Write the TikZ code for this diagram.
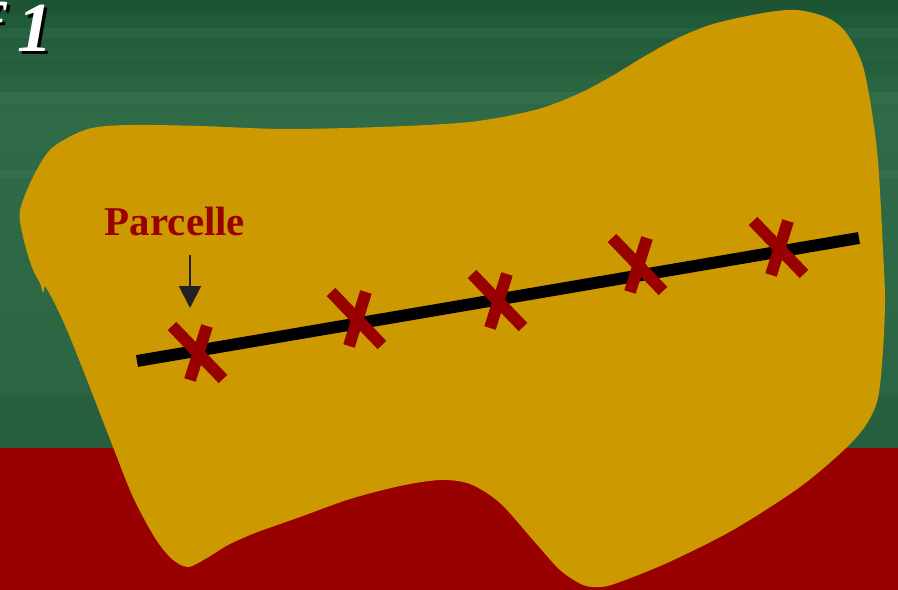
\documentclass[tikz,border=0pt]{standalone}
\usepackage{fontspec}
\setmainfont{Liberation Serif}
\usetikzlibrary{arrows.meta}
\definecolor{gdark}{HTML}{1D5836}
\definecolor{glight}{HTML}{306B47}
\definecolor{gmid}{HTML}{2A6442}
\definecolor{redband}{HTML}{990000}
\definecolor{blob}{HTML}{CC9900}
\definecolor{xred}{HTML}{990000}
\definecolor{arrgray}{HTML}{222222}
\tikzset{
  xbar/.style={draw=xred, line width=6.8pt, line cap=butt},
  axisline/.style={draw=black, line width=6.8pt, line cap=butt},
  labeltext/.style={text=xred, font=\fontsize{23.3}{26}\selectfont\bfseries, inner sep=0pt},
  bigtext/.style={font=\fontsize{40}{44}\selectfont\bfseries\itshape, inner sep=0pt},
  pointer/.style={draw=arrgray, line width=1.1pt, -{Triangle[width=12.5pt,length=12.5pt]}},
  strip/.style={fill=white, opacity=0.035}
}
\begin{document}
\begin{tikzpicture}[x=0.02cm,y=-0.02cm]
\useasboundingbox (0,0) rectangle (898,590);
% background
\shade[top color=gdark, bottom color=glight] (0,0) rectangle (898,120);
\shade[top color=glight, bottom color=gmid] (0,120) rectangle (898,448);
\fill[strip] (0,28) rectangle (898,38);
\fill[strip] (0,92) rectangle (898,104);
\fill[strip] (0,170) rectangle (898,178);
\fill[black, opacity=0.05] (0,0) rectangle (898,14);
\fill[black, opacity=0.04] (0,60) rectangle (898,74);
\fill[black, opacity=0.05] (0,395) rectangle (898,448);
\fill[redband] (0,448) rectangle (898,590);
% title fragment
\node[bigtext, text=black, anchor=base west] at (-19,55) {f};
\node[bigtext, text=black, anchor=base west] at (20,55) {1};
\node[bigtext, text=white, anchor=base west] (tf) at (-22,52) {f};
\node[bigtext, text=white, anchor=base west] (tone) at (17,52) {1};
% blob
\fill[blob] plot[smooth, tension=0.5] coordinates {
 (45,286) (53,300) (67,330) (87,380) (113,447) (133,497) (155,538) (172,559)
 (188,567) (207,558) (228,545) (255,533) (300,517) (350,499) (400,486)
 (440,480) (470,484) (500,503) (533,540) (560,570) (583,585) (600,587)
 (617,583) (667,563) (733,530) (800,487) (845,449) (866,425) (878,398)
 (883,350) (885,300) (883,250) (877,150) (864,70) (847,34) (828,18)
 (797,10) (763,13) (713,24) (678,38) (645,56) (612,76) (578,94) (535,110)
 (470,122) (380,127) (283,129) (200,126) (130,125) (88,129) (52,148)
 (33,177) (20,210) (22,232) (27,252) (33,270) (40,283)}
 -- (43,293) -- cycle;
% line
\coordinate (la) at (137,361);
\coordinate (lb) at (859,238);
\path[axisline] (la) -- (lb);
% crosses
\foreach \n/\cx/\cy in {1/198/352, 2/357/318, 3/498/300, 4/638/264, 5/779/247}{
  \coordinate (x\n) at (\cx,\cy);
  \path[xbar] ([shift={(-26,-26)}]x\n) -- ([shift={(25,27)}]x\n);
  \path[xbar] ([shift={(9,-26)}]x\n) -- ([shift={(-8,28)}]x\n);
}
% label and arrow
\node[labeltext, anchor=base] (parcelle) at (175,236) {Parcelle};
\coordinate (ptop) at (190,255);
\coordinate (ptip) at (190,308);
\draw[pointer] (ptop) -- (ptip);
\end{tikzpicture}
\end{document}
